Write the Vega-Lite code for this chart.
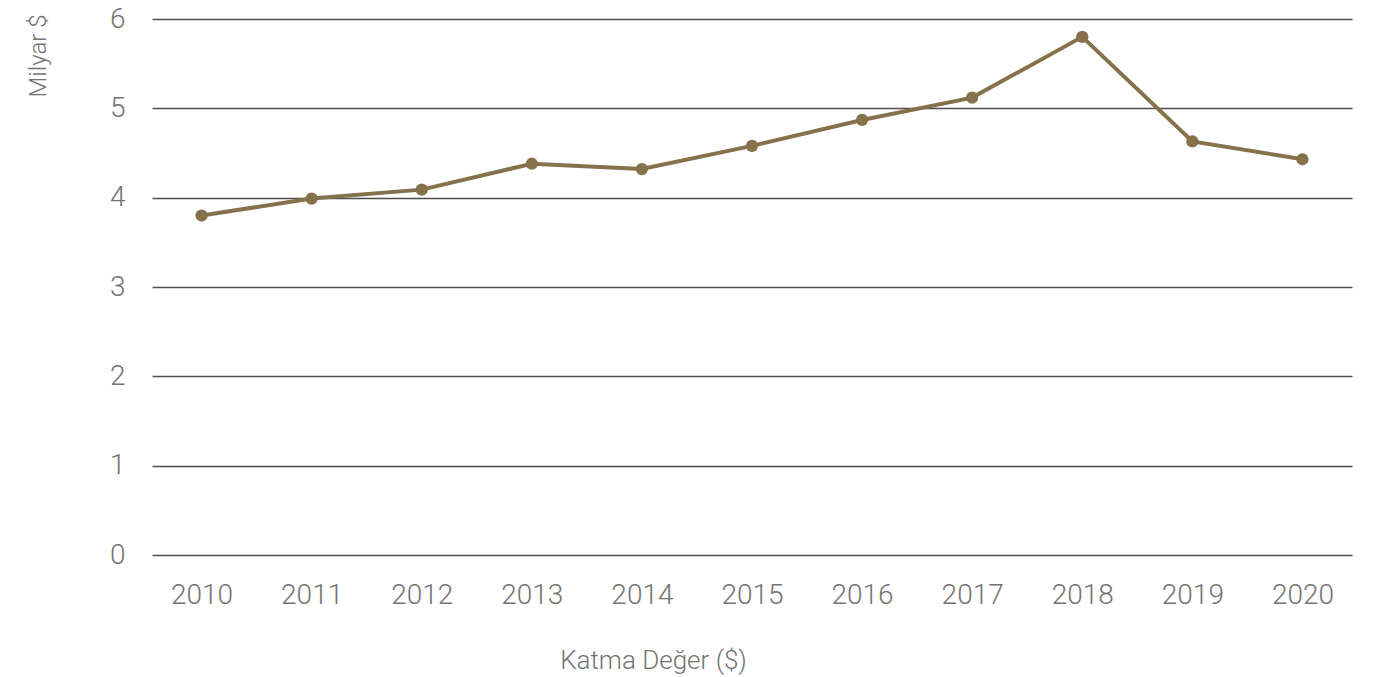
{
  "$schema": "https://vega.github.io/schema/vega-lite/v6.json",
  "width": 1200,
  "height": 536,
  "padding": {"left": 152, "top": 19, "right": 24, "bottom": 122},
  "autosize": {"type": "none"},
  "background": "white",
  "config": {
    "view": {"stroke": null},
    "font": "Roboto",
    "axis": {"labelFont": "Roboto", "titleFont": "Roboto", "labelFontWeight": 300, "titleFontWeight": 300, "labelColor": "#737373", "titleColor": "#737373"}
  },
  "data": {
    "values": [
      {"year": "2010", "value": 3.8},
      {"year": "2011", "value": 3.99},
      {"year": "2012", "value": 4.09},
      {"year": "2013", "value": 4.38},
      {"year": "2014", "value": 4.32},
      {"year": "2015", "value": 4.58},
      {"year": "2016", "value": 4.87},
      {"year": "2017", "value": 5.12},
      {"year": "2018", "value": 5.8},
      {"year": "2019", "value": 4.63},
      {"year": "2020", "value": 4.43}
    ]
  },
  "encoding": {
    "x": {
      "field": "year", "type": "ordinal",
      "scale": {"type": "point", "padding": 0.45},
      "axis": {
        "title": "Katma Değer ($)", "labelAngle": 0, "ticks": false, "domain": false, "grid": false,
        "labelFontSize": 28, "labelPadding": 26, "labelBaseline": "top",
        "titleFontSize": 26, "titleX": 501, "titleY": 105, "titleAlign": "center", "titleBaseline": "middle"
      }
    },
    "y": {
      "field": "value", "type": "quantitative",
      "scale": {"domain": [0, 6], "nice": false, "zero": true},
      "axis": {
        "title": "Milyar $", "values": [0, 1, 2, 3, 4, 5, 6], "ticks": false, "domain": false,
        "grid": true, "gridColor": "#4d4d4d", "gridWidth": 1.3, "gridOpacity": 1,
        "labelFontSize": 28, "labelPadding": 27, "labelBaseline": "middle",
        "titleFontSize": 24, "titleAngle": -90, "titleX": -114, "titleY": -5, "titleAlign": "right", "titleBaseline": "middle"
      }
    }
  },
  "layer": [
    {"mark": {"type": "line", "color": "#85714a", "strokeWidth": 4}},
    {"mark": {"type": "point", "filled": true, "color": "#85714a", "size": 150, "opacity": 1}}
  ]
}
